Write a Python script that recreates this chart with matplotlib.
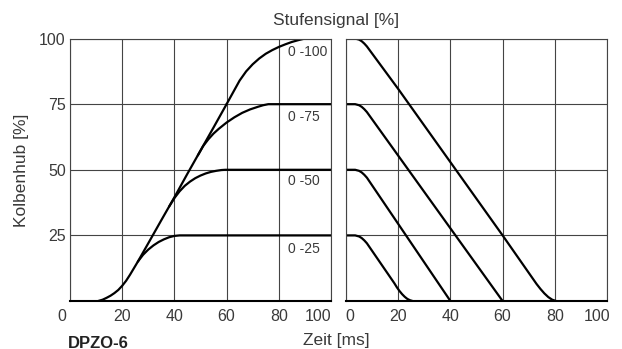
import numpy as np
import matplotlib.pyplot as plt
from matplotlib.transforms import ScaledTranslation

# Kolbenhub bei Stufensignal 0 -> x (links: Öffnen)
ramp_x = [10.8, 12.5, 14, 15.5, 17, 18.5, 20, 21.5, 23, 24.5, 26, 30, 35, 40, 45, 50, 55, 60]
ramp_y = [0, 0.5, 1.2, 2, 3, 4.2, 5.8, 7.7, 10, 12.5, 15, 22, 30.8, 39.5, 48.5, 57.3, 66.1, 75]

up100_x = [60, 62.5, 65, 67.5, 70, 72.5, 75, 77.5, 80, 82.5, 85, 87.5, 90, 100]
up100_y = [75, 79.5, 84, 87.5, 90.2, 92.4, 94.2, 95.6, 96.8, 97.8, 98.7, 99.4, 100, 100]

up75_x = [49, 51, 53, 55, 57, 60, 63, 66, 69, 72, 74, 76, 100]
up75_y = [55.5, 59, 61.6, 63.8, 65.6, 68, 70, 71.7, 73, 74, 74.6, 75, 75]

up50_x = [38, 40, 42, 44, 46, 48, 50, 52, 54, 56, 58, 59.5, 100]
up50_y = [36, 39.2, 41.8, 43.9, 45.5, 46.8, 47.8, 48.6, 49.2, 49.6, 49.9, 50, 50]

up25_x = [26, 28, 30, 32, 34, 36, 38, 40, 42, 100]
up25_y = [15, 17.6, 19.6, 21.2, 22.5, 23.5, 24.3, 24.8, 25, 25]

# Schließen (rechts)
down100_x = [0, 3.5, 5, 6, 7, 8, 20, 60, 73, 74.5, 76, 77.5, 79, 80.5]
down100_y = [100, 100, 99.6, 99, 98.1, 97, 80.8, 25, 6.5, 4.6, 2.9, 1.5, 0.5, 0]

down75_x = [0, 3.5, 5, 6, 7, 8, 60]
down75_y = [75, 75, 74.6, 74, 73.1, 72, 0]

down50_x = [0, 3.5, 5, 6, 7, 8, 40]
down50_y = [50, 50, 49.6, 49, 48.1, 47, 0]

down25_x = [0, 3.5, 5, 6, 7, 8, 18.5, 19.5, 20.5, 21.5, 22.5, 23.5, 24.5, 25.5]
down25_y = [25, 25, 24.6, 24, 23.1, 22, 6.8, 5.2, 3.8, 2.6, 1.6, 0.8, 0.3, 0]

curve_labels = ['0 -100', '0 -75', '0 -50', '0 -25']
label_y = [94.8, 70.3, 45.6, 19.8]

x_ticks = [0, 20, 40, 60, 80, 100]
y_ticks = [25, 50, 75, 100]

plt.rcParams['font.family'] = ['Liberation Sans', 'DejaVu Sans']
txt_col = '#3a3a3a'
grid_col = '#444444'

fig = plt.figure(figsize=(6.22, 3.49), dpi=100)
ax1 = fig.add_axes([0.1125, 0.1375, 0.4196, 0.752])
ax2 = fig.add_axes([0.5563, 0.1375, 0.4196, 0.752])

for ax in (ax1, ax2):
    ax.set_xlim(0, 100)
    ax.set_ylim(0, 100)
    ax.set_xticks(x_ticks)
    ax.set_yticks(y_ticks)
    ax.grid(True, color=grid_col, linewidth=0.8)
    ax.tick_params(length=0, labelsize=11.5, labelcolor=txt_col, pad=6)
    for s in ax.spines.values():
        s.set_color(grid_col)
        s.set_linewidth(0.8)
    ax.spines['bottom'].set_color('black')
    ax.spines['bottom'].set_linewidth(1.5)

ax2.set_yticklabels([])
ax1.tick_params(axis='y', pad=3)

lw = 1.6
for xs, ys in [(ramp_x, ramp_y), (up100_x, up100_y), (up75_x, up75_y),
               (up50_x, up50_y), (up25_x, up25_y)]:
    ax1.plot(xs, ys, color='black', lw=lw, solid_capstyle='round', solid_joinstyle='round')

for xs, ys in [(down100_x, down100_y), (down75_x, down75_y),
               (down50_x, down50_y), (down25_x, down25_y)]:
    ax2.plot(xs, ys, color='black', lw=lw, solid_capstyle='round', solid_joinstyle='round')

for lab, yy in zip(curve_labels, label_y):
    ax1.text(83.5, yy, lab, fontsize=10, color=txt_col, ha='left', va='center')

# Randbeschriftungen etwas verschieben wie im Original
def shift(label, dx):
    label.set_transform(label.get_transform() + ScaledTranslation(dx / 72, 0, fig.dpi_scale_trans))

fig.canvas.draw()
l1 = ax1.get_xticklabels()
shift(l1[0], -6)
shift(l1[-1], -9)
l2 = ax2.get_xticklabels()
shift(l2[0], 3)
shift(l2[-1], -7)

fig.text(336 / 622, 1 - 20 / 349, 'Stufensignal [%]', fontsize=12.5, color=txt_col,
         ha='center', va='center')
fig.text(336 / 622, 1 - 340 / 349, 'Zeit [ms]', fontsize=12.5, color=txt_col,
         ha='center', va='center')
fig.text(22 / 622, 1 - 170 / 349, 'Kolbenhub [%]', fontsize=12.5, color=txt_col,
         ha='center', va='center', rotation=90)
fig.text(68 / 622, 1 - 343 / 349, 'DPZO-6', fontsize=12, fontweight='bold',
         color='#222222', ha='left', va='center')

fig.savefig('out.png', dpi=100)
